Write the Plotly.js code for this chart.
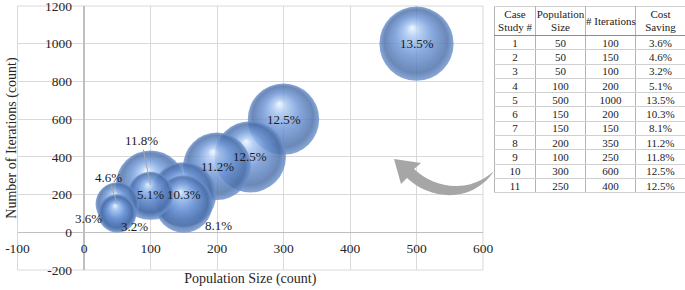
<!DOCTYPE html>
<html><head><meta charset="utf-8">
<script src="https://cdn.plot.ly/plotly-3.0.1.min.js"></script>
<style>
html,body{margin:0;padding:0;background:#fff;}
#wrap{position:relative;width:685px;height:290px;}
#chart{position:absolute;left:0;top:0;width:685px;height:290px;}
#tbl{position:absolute;left:494px;top:6px;width:191px;border-collapse:collapse;table-layout:fixed;
  font-family:"Liberation Serif","Times New Roman",serif;font-size:11px;color:#1a1a1a;background:#fff;}
#tbl td,#tbl th{padding:0;text-align:center;font-weight:normal;border-left:1px solid #b4b4b4;border-right:1px solid #b4b4b4;
  border-top:1px solid #d0d0d0;border-bottom:1px solid #d0d0d0;line-height:12px;height:13.3px;white-space:nowrap;}
#tbl th{height:28px;border-bottom:1px solid #8c8c8c;line-height:13px;}
#tbl{border:1.2px solid #6e6e6e;}
</style>
</head><body><div id="wrap"><div id="chart"></div><table id="tbl"></table></div>
<script>
// ---- data ----
const caseNo = [1, 2, 3, 4, 5, 6, 7, 8, 9, 10, 11];
const populationSize = [50, 50, 50, 100, 500, 150, 150, 200, 100, 300, 250];
const iterations = [100, 150, 100, 200, 1000, 200, 150, 350, 250, 600, 400];
const costSaving = [3.6, 4.6, 3.2, 5.1, 13.5, 10.3, 8.1, 11.2, 11.8, 12.5, 12.5];
const tableHeader = ['Case<br>Study #', 'Population<br>Size', '# Iterations', 'Cost<br>Saving'];
const xTickVals = [-100, 0, 100, 200, 300, 400, 500, 600];
const xTickText = ['-100', '0', '100', '200', '300', '400', '500', '600'];
const yTickVals = [-200, 0, 200, 400, 600, 800, 1000, 1200];
const yTickText = ['-200', '0', '200', '400', '600', '800', '1000', '1200'];
const xTitle = 'Population Size (count)';
const yTitle = 'Number of Iterations (count)';

// ---- label placement (px offsets, style only) ----
const labelDx = [-28.5, -9, 17, 0, 0, 0, 35, 0, -9, 0, 0];
const labelDy = [5.5, -27, 13, 0, 0, 0, 21, 0, -44.5, 0, 0]; // positive = down
const labelLeader = [false, true, false, false, false, false, false, false, true, false, false];

const W = 685, H = 290;
const FONT = 'Liberation Serif, "Times New Roman", serif';
const px = (x) => x / W, py = (y) => 1 - y / H;

// draw larger bubbles first so smaller ones sit on top
const order = caseNo.map((_, i) => i).sort((a, b) => costSaving[b] - costSaving[a]);

const bubbles = {
  type: 'scatter', mode: 'markers',
  x: order.map(i => populationSize[i]),
  y: order.map(i => iterations[i]),
  text: order.map(i => costSaving[i].toFixed(1) + '%'),
  hoverinfo: 'text',
  marker: {
    size: order.map(i => costSaving[i]),
    sizemode: 'area',
    sizeref: 3.556 * Math.max(...costSaving) / (2 * 70 * 70),
    color: '#4f78b8',
    opacity: 0.82,
    line: {width: 0},
    gradient: {type: 'radial', color: '#cfe3ff'}
  },
  cliponaxis: true
};

// ---- table built from the same arrays ----
(function buildTable() {
  const t = document.getElementById('tbl');
  const widths = [41, 50, 50, 50];
  let html = '<colgroup>' + widths.map(w => '<col style="width:' + w + 'px">').join('') + '</colgroup>';
  html += '<tr>' + tableHeader.map(h => '<th>' + h + '</th>').join('') + '</tr>';
  caseNo.forEach((c, i) => {
    html += '<tr><td>' + c + '</td><td>' + populationSize[i] + '</td><td>' + iterations[i] +
      '</td><td>' + costSaving[i].toFixed(1) + '%</td></tr>';
  });
  t.innerHTML = html;
})();

const annotations = caseNo.map((_, i) => {
  const base = {
    x: populationSize[i], y: iterations[i], xref: 'x', yref: 'y',
    text: costSaving[i].toFixed(1) + '%',
    font: {family: FONT, size: 13, color: '#1a1a1a'}
  };
  if (labelLeader[i]) {
    return Object.assign(base, {showarrow: true, ax: labelDx[i], ay: labelDy[i], arrowhead: 0,
      arrowwidth: 1, arrowcolor: '#a6a6a6', standoff: 0});
  }
  return Object.assign(base, {showarrow: false, xshift: labelDx[i], yshift: -labelDy[i]});
});

// curved grey arrow pointing from table to chart (decoration)
const arrowPts = [
  ['M', 394, 159], ['L', 421, 163], ['L', 414, 169],
  ['C', 432, 186, 466, 196, 494, 171],
  ['C', 472, 204, 430, 200, 407, 178],
  ['L', 401, 184], ['Z']
];
const arrowPath = arrowPts.map(s => {
  const cmd = s[0]; const nums = s.slice(1); const out = [];
  for (let k = 0; k < nums.length; k += 2) out.push(px(nums[k]).toFixed(5) + ',' + py(nums[k + 1]).toFixed(5));
  return cmd + out.join(' ');
}).join(' ');

const axisCommon = {
  showgrid: true, gridcolor: '#d9d9d9', gridwidth: 1,
  zeroline: true, zerolinecolor: '#bfbfbf', zerolinewidth: 1.3,
  showline: false, ticks: '', ticklabeloverflow: 'allow', tickmode: 'array',
  tickfont: {family: FONT, size: 13.5, color: '#262626'},
  automargin: false, fixedrange: true
};

const layout = {
  width: W, height: H,
  margin: {l: 0, r: 0, t: 0, b: 0},
  paper_bgcolor: '#ffffff', plot_bgcolor: '#ffffff',
  showlegend: false,
  font: {family: FONT, color: '#262626'},
  xaxis: Object.assign({}, axisCommon, {
    domain: [px(17.5), px(483)], range: [-100, 600], tickvals: xTickVals, ticktext: xTickText,
    anchor: 'free', position: py(232.3), ticklabelstandoff: 6,
    title: {text: xTitle, font: {family: FONT, size: 14, color: '#262626'}, standoff: 18}
  }),
  yaxis: Object.assign({}, axisCommon, {
    domain: [py(270), py(6)], range: [-200, 1200], tickvals: yTickVals, ticktext: yTickText,
    anchor: 'free', position: px(84), ticklabelstandoff: 12,
    title: {text: yTitle, font: {family: FONT, size: 14, color: '#262626'}, standoff: 24}
  }),
  annotations: annotations,
  shapes: [
    {type: 'rect', xref: 'x domain', yref: 'y domain', x0: 0, x1: 1, y0: 0, y1: 1,
     line: {color: '#d9d9d9', width: 1}, fillcolor: 'rgba(0,0,0,0)', layer: 'below'},
    {type: 'path', xref: 'paper', yref: 'paper', path: arrowPath, fillcolor: '#a6a6a6',
     line: {width: 0}, layer: 'above'}
  ]
};

function shadeBubbles() {
  const NS = 'http://www.w3.org/2000/svg';
  const stops = [[0, '#eef6ff'], [0.18, '#a9c8f2'], [0.5, '#6d95d6'], [0.85, '#4a6ea8'], [1, '#6f95cf']];
  document.querySelectorAll('#chart radialGradient').forEach(g => {
    g.setAttribute('cx', '0.5'); g.setAttribute('cy', '0.5'); g.setAttribute('r', '0.5');
    g.setAttribute('fx', '0.44'); g.setAttribute('fy', '0.28');
    while (g.firstChild) g.removeChild(g.firstChild);
    stops.forEach(s => {
      const st = document.createElementNS(NS, 'stop');
      st.setAttribute('offset', s[0]);
      st.setAttribute('stop-color', s[1]);
      g.appendChild(st);
    });
  });
}

Plotly.newPlot('chart', [bubbles], layout, {displayModeBar: false, staticPlot: true})
  .then(shadeBubbles);
</script>
</body></html>
